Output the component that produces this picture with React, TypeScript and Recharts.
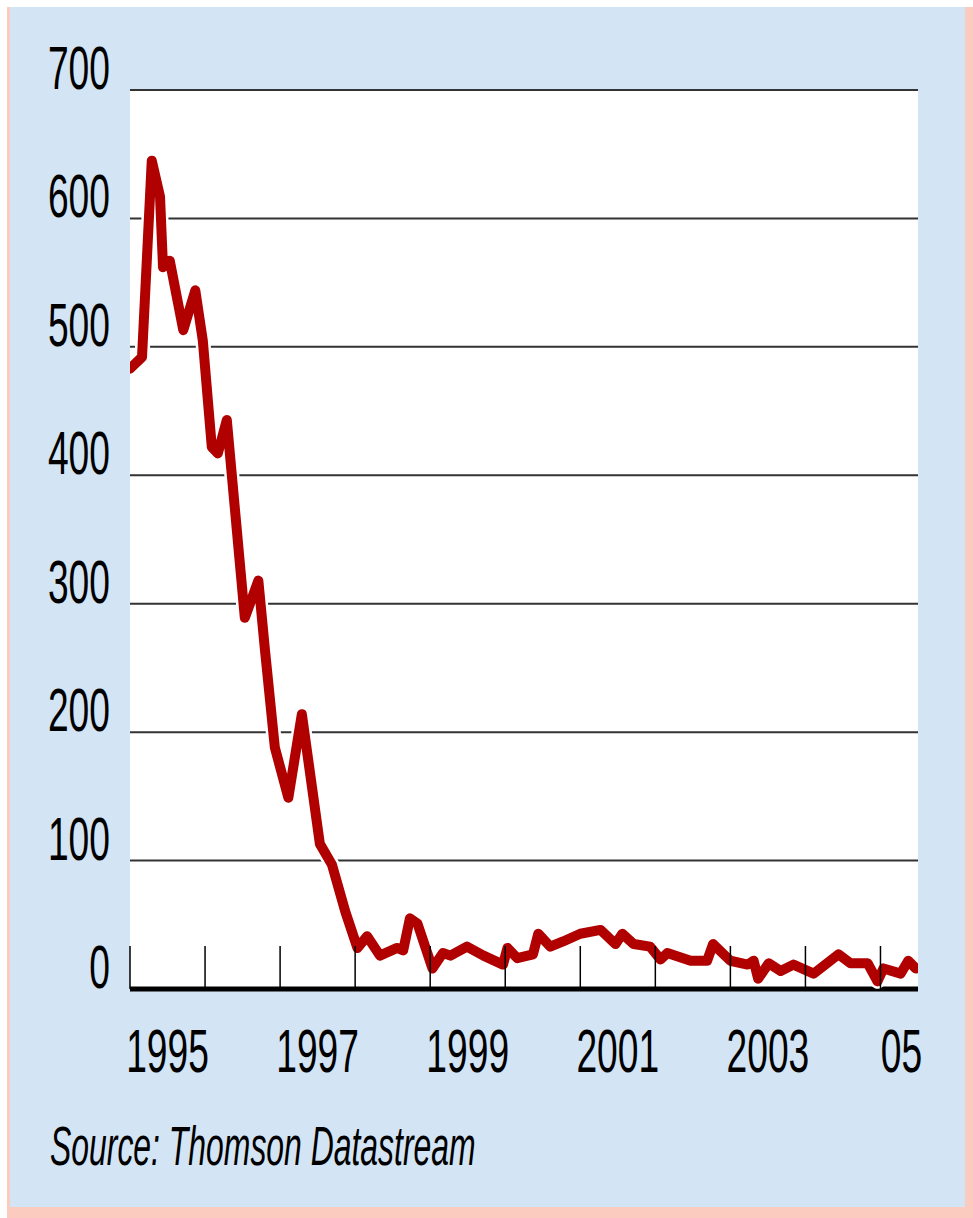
import { CartesianGrid, Line, LineChart, XAxis, YAxis } from "recharts";

// decimal year of each reading
const dates = [
  1995.0, 1995.16, 1995.29, 1995.4, 1995.44, 1995.53, 1995.71, 1995.87, 1995.97,
  1996.09, 1996.17, 1996.29, 1996.53, 1996.71, 1996.8, 1996.93, 1997.11, 1997.29,
  1997.53, 1997.69, 1997.87, 1998.03, 1998.16, 1998.33, 1998.56, 1998.64, 1998.73,
  1998.83, 1999.03, 1999.17, 1999.27, 1999.49, 1999.71, 1999.97, 2000.03, 2000.16,
  2000.37, 2000.44, 2000.6, 2000.77, 2001.0, 2001.27, 2001.47, 2001.56, 2001.71,
  2001.93, 2002.07, 2002.16, 2002.47, 2002.69, 2002.77, 2003.0, 2003.23, 2003.31,
  2003.37, 2003.51, 2003.67, 2003.84, 2004.11, 2004.44, 2004.6, 2004.83, 2004.96,
  2005.04, 2005.27, 2005.37, 2005.47,
];

const prices = [
  483, 492, 645, 617, 562, 567, 513, 544, 505,
  422, 417, 443, 289, 318, 263, 188, 149, 214,
  113, 97, 60, 32, 41, 26, 32, 30, 55,
  51, 16, 28, 26, 33, 26, 19, 32, 24,
  27, 43, 33, 37, 43, 46, 35, 43, 35,
  33, 23, 28, 22, 22, 35, 22, 19, 22,
  8, 20, 14, 19, 12, 27, 20, 20, 6,
  16, 12, 22, 16,
];

const yTicks = [0, 100, 200, 300, 400, 500, 600, 700];
const yearTicks = [1995, 1996, 1997, 1998, 1999, 2000, 2001, 2002, 2003, 2004, 2005];
const labelTicks = [1995.5, 1997.5, 1999.5, 2001.5, 2003.5, 2005.28];
const labelText = ["1995", "1997", "1999", "2001", "2003", "05"];

const data = dates.map((t, i) => ({ t, v: prices[i] }));
const allXTicks = [...yearTicks, ...labelTicks].sort((a, b) => a - b);

const FONT = "'Liberation Sans', Arial, Helvetica, sans-serif";
const SQUEEZE = 0.61;

function YTick(props: any) {
  const { x, y, payload } = props;
  return (
    <g transform={`translate(${x},${y - 1}) scale(${SQUEEZE},1)`}>
      <text x={0} y={0} textAnchor="end" fontFamily={FONT} fontSize={61} fill="#000">
        {payload.value}
      </text>
    </g>
  );
}

function XTick(props: any) {
  const { x, y, payload } = props;
  const idx = labelTicks.indexOf(payload.value);
  if (idx >= 0) {
    return (
      <g transform={`translate(${x},${y + 83}) scale(${SQUEEZE},1)`}>
        <text x={0} y={0} textAnchor="middle" fontFamily={FONT} fontSize={61} fill="#000">
          {labelText[idx]}
        </text>
      </g>
    );
  }
  return <line x1={x} x2={x} y1={y} y2={y - 43} stroke="#000" strokeWidth={1.5} />;
}

export default function App() {
  return (
    <div style={{ position: "absolute", left: 0, top: 0, width: 973, height: 1218, background: "#fff" }}>
      <div style={{ position: "absolute", left: 7, top: 7, width: 966, height: 1211, background: "#fccbbf" }} />
      <div style={{ position: "absolute", left: 10, top: 7, width: 955, height: 1200, background: "#d3e4f4" }} />
      <div style={{ position: "absolute", left: 0, top: 0 }}>
        <LineChart width={973} height={1218} data={data} margin={{ top: 90, right: 55, left: 0, bottom: 0 }}>
          <CartesianGrid vertical={false} stroke="#333" strokeWidth={2} fill="#fff" fillOpacity={1} />
          <XAxis
            dataKey="t"
            type="number"
            domain={[1995, 2005.5]}
            allowDataOverflow
            ticks={allXTicks}
            interval={0}
            height={229}
            tickSize={0}
            tickMargin={0}
            tickLine={false}
            axisLine={{ stroke: "#000", strokeWidth: 5 }}
            tick={XTick}
          />
          <YAxis
            domain={[0, 700]}
            ticks={yTicks}
            interval={0}
            width={130}
            tickSize={0}
            tickMargin={20}
            tickLine={false}
            axisLine={false}
            tick={YTick}
          />
          <Line
            dataKey="v"
            type="linear"
            stroke="#fff"
            strokeWidth={15}
            strokeLinejoin="round"
            strokeLinecap="round"
            dot={false}
            activeDot={false}
            isAnimationActive={false}
            zIndex={600}
          />
          <Line
            dataKey="v"
            type="linear"
            stroke="#b00000"
            strokeWidth={10}
            strokeLinejoin="round"
            strokeLinecap="round"
            dot={false}
            activeDot={false}
            isAnimationActive={false}
            zIndex={601}
          />
        </LineChart>
      </div>
      <svg style={{ position: "absolute", left: 0, top: 1100 }} width={600} height={90}>
        <g transform={`translate(50,65) scale(0.57,1)`}>
          <text x={0} y={0} fontFamily={FONT} fontStyle="italic" fontSize={56} fill="#000">
            Source: Thomson Datastream
          </text>
        </g>
      </svg>
    </div>
  );
}
